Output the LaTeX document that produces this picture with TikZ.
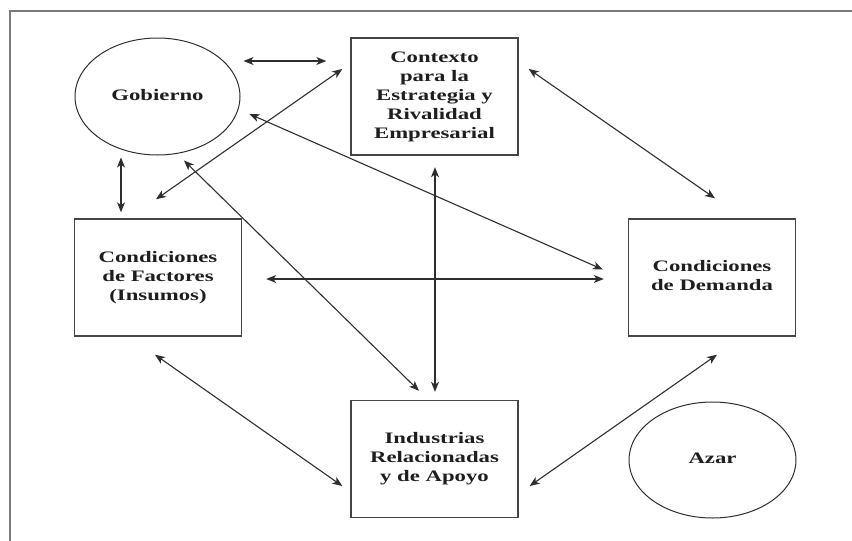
\documentclass[tikz,border=0pt]{standalone}
\usepackage{fontspec}
\usepackage{graphicx}
\setmainfont{Liberation Serif}
\usetikzlibrary{shapes.geometric,arrows.meta,calc}
\definecolor{linecol}{HTML}{2E2E2E}
\definecolor{boxcol}{HTML}{454545}
\definecolor{framecol}{HTML}{7A7A7A}
\definecolor{txtcol}{HTML}{1E1E1E}
\newcommand\wtxt[1]{\scalebox{1.42}[1]{\begin{tabular}{@{}c@{}}#1\end{tabular}}}
\tikzset{
  boxnode/.style={draw=boxcol, line width=1.4pt, rectangle, minimum width=167pt, minimum height=117pt, inner sep=0pt, text=txtcol, font=\fontsize{16}{19}\selectfont\bfseries},
  ovalnode/.style={draw=linecol, line width=1pt, ellipse, minimum width=165pt, minimum height=117pt, inner sep=0pt, text=txtcol, font=\fontsize{16}{19}\selectfont\bfseries},
  arr/.style={draw=linecol, line width=1.1pt, {Stealth[length=10pt,width=8pt,inset=2.8pt]}-{Stealth[length=10pt,width=8pt,inset=2.8pt]}},
  framepart/.style={draw=framecol, line width=2pt}
}
\begin{document}
\begin{tikzpicture}[x=1pt, y=-1pt]
\useasboundingbox (0,0) rectangle (852,541);
% frame (only top and left edges visible)
\coordinate (fr) at (9.5,10.5);
\coordinate (frr) at (852,10.5);
\coordinate (frb) at (9.5,541);
\draw[framepart] (frb) -- (fr) -- (frr);
% nodes
\node[ovalnode] (gob) at (157.5,96.5) {\wtxt{Gobierno}};
\node[boxnode] (ctx) at (434.5,96.5) {\wtxt{Contexto\\para la\\Estrategia y\\Rivalidad\\Empresarial}};
\node[boxnode] (fac) at (158,277.5) {\wtxt{Condiciones\\de Factores\\(Insumos)}};
\node[boxnode] (dem) at (712,277.5) {\wtxt{Condiciones\\de Demanda}};
\node[boxnode] (ind) at (434.5,459) {\wtxt{Industrias\\Relacionadas\\y de Apoyo}};
\node[ovalnode, minimum width=167pt, minimum height=116pt] (azar) at (712.5,460) {\wtxt{Azar}};
% connectors
\draw[arr] ($(gob.east)+(3,-35.5)$) -- ($(ctx.west)+(-24,-35.5)$);
\draw[arr] ($(fac.north)+(-2,-19)$) -- ($(ctx.west)+(-8,-27.5)$);
\draw[arr] ($(gob.east)+(9,17.5)$) -- ($(dem.west)+(-25,-8)$);
\draw[arr] ($(gob.south)+(-36.5,2)$) -- ($(fac.north)+(-37,-6)$);
\draw[arr] ($(gob.south)+(26.5,5)$) -- ($(ind.north)+(-15.5,-9)$);
\draw[arr] ($(ctx.south)+(0.5,11.5)$) -- ($(ind.north)+(0.5,-8)$);
\draw[arr] ($(fac.east)+(24,1.5)$) -- ($(dem.west)+(-24,1.5)$);
\draw[arr] ($(ctx.east)+(10,-27.5)$) -- ($(dem.north)+(3,-20)$);
\draw[arr] ($(fac.south)+(-3,18)$) -- ($(ind.west)+(-8,27)$);
\draw[arr] ($(dem.south)+(5,18)$) -- ($(ind.east)+(11,27)$);
\end{tikzpicture}
\end{document}
